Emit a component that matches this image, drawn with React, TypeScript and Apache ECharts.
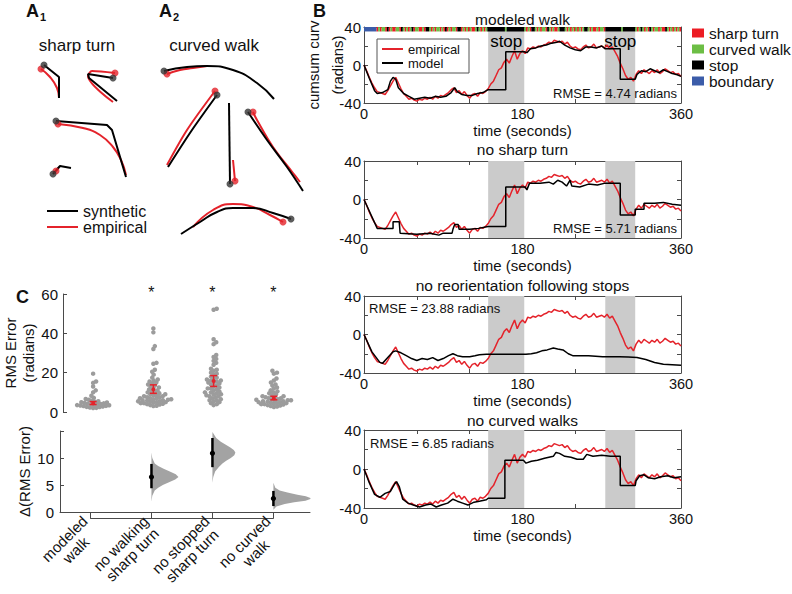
import React, { useEffect, useRef } from 'react';
import * as echarts from 'echarts';

const FONT = '"Liberation Sans", Arial, Helvetica, sans-serif';
const RED = '#e4232b';
const BLACK = '#000000';
const AXIS_COLOR = '#4a4a4a';
const TEXT_COLOR = '#111111';
const SHADE = '#cbcbcb';
const DOT_GRAY = '#9c9c9c';
const VIOLIN_GRAY = '#a3a3a3';

// ---------------- Panel A: example trajectories (arbitrary plane units) ----------------
type Pt = [number, number];
const A_TRAJECTORIES: { syn: Pt[]; emp: Pt[]; synSmooth: number; empSmooth: number }[] = [
  // A1 sharp turns
  { syn: [[44, 65], [59, 77], [59, 98]], emp: [[41, 69], [50, 77], [57, 88], [59, 98]], synSmooth: 0, empSmooth: 0.5 },
  { syn: [[113, 78], [88, 74], [89, 78], [117, 101]], emp: [[115, 73], [92, 71], [88, 76], [113, 102]], synSmooth: 0, empSmooth: 0.3 },
  { syn: [[56, 121], [107, 125], [112, 130], [126, 177]], emp: [[58, 124], [83, 128], [100, 135], [113, 147], [121, 160], [126, 175]], synSmooth: 0, empSmooth: 0.5 },
  { syn: [[53, 174], [60, 166], [71, 168]], emp: [[56, 171], [59, 167]], synSmooth: 0, empSmooth: 0 },
  // A2 curved walks
  { syn: [[164, 71], [187, 67], [207, 66], [233, 70], [257, 83], [274, 99]], emp: [[167, 74], [180, 70], [193, 68], [207, 66]], synSmooth: 0.5, empSmooth: 0.5 },
  { syn: [[217, 95], [192, 130], [168, 167]], emp: [[215, 91], [187, 130], [167, 165]], synSmooth: 0.3, empSmooth: 0.3 },
  { syn: [[230, 184], [229, 103]], emp: [[235, 181], [233, 160]], synSmooth: 0, empSmooth: 0 },
  { syn: [[248, 112], [267, 140], [287, 167], [303, 191]], emp: [[253, 112], [257, 120], [273, 147], [293, 173], [300, 182]], synSmooth: 0.4, empSmooth: 0.4 },
  { syn: [[291, 219], [273, 213], [253, 208], [233, 208], [217, 212], [200, 222], [181, 234]], emp: [[283, 222], [270, 215], [253, 207], [233, 204], [213, 210], [193, 227]], synSmooth: 0.5, empSmooth: 0.5 },
];

// ---------------- Panel B: cumulative curvature ----------------
const TIME_STEP = 3; // seconds between empirical samples
const EMPIRICAL = [
  0, -6, -13, -19, -24, -28, -29, -30, -31, -27, -22, -17, -13, -19, -25, -30, -33, -36, -35, -37,
  -38, -36, -37, -35, -36, -34, -36, -33, -35, -32, -33, -31, -29, -26, -24, -29, -27, -31, -28, -32,
  -35, -31, -30, -33, -29, -30, -28, -25, -20, -17, -11, -5, -3, 3, 6, 2, 9, 15, 6, 12,
  15, 12, 18, 17, 19, 18, 20, 19, 21, 22, 24, 23, 26, 25, 24, 25, 22, 24, 20, 18,
  19, 17, 16, 19, 21, 18, 19, 22, 18, 19, 20, 18, 21, 17, 19, 14, 9, 2, -4, -11,
  -15, -13, -17, -10, -6, -9, -5, -7, -9, -6, -8, -5, -9, -7, -4, -6, -8, -7, -10, -9,
  -12,
];
const MODEL_FULL: Pt[] = [
  [0, 0], [6, -14], [12, -27], [15, -30], [21, -29], [27, -26], [30, -17], [33, -13], [36, -15], [39, -24],
  [45, -30], [51, -33], [57, -36], [63, -35], [69, -34], [75, -35], [81, -33], [87, -34], [93, -33], [99, -29],
  [103, -24], [106, -28], [111, -31], [117, -32], [123, -32], [129, -30], [135, -29], [141, -26], [161, -26], [161, 14],
  [182, 14], [185, 13], [189, 17], [195, 18], [201, 20], [207, 21], [213, 23], [219, 24], [222, 25], [228, 21],
  [234, 18], [240, 16], [246, 15], [252, 19], [258, 19], [264, 18], [270, 20], [274, 17], [291, 17], [291, -15],
  [308, -15], [310, -10], [315, -6], [320, -7], [325, -4], [330, -6], [335, -8], [340, -5], [345, -7], [350, -9],
  [355, -10], [360, -12],
];
const MODEL_NO_SHARP: Pt[] = [
  [0, 0], [15, -30], [33, -30], [33, -23], [40, -23], [41, -35], [60, -36], [75, -35], [85, -37], [90, -35],
  [100, -35], [101, -31], [103, -26], [107, -26], [108, -31], [120, -31], [130, -30], [141, -28], [161, -28], [161, 13],
  [183, 13], [185, 10], [188, 17], [200, 17], [210, 18], [215, 16], [220, 20], [225, 18], [230, 14], [234, 20],
  [236, 14], [245, 13], [255, 16], [265, 15], [274, 17], [291, 17], [291, -16], [308, -16], [308, -10], [318, -10],
  [318, -4], [330, -4], [340, -3], [350, -5], [360, -6],
];
const MODEL_NO_REORIENT: Pt[] = [
  [0, 0], [9, -18], [18, -29], [21, -30], [27, -24], [33, -18], [36, -17], [42, -19], [48, -22], [54, -25],
  [60, -27], [66, -25], [72, -26], [78, -24], [84, -27], [90, -25], [96, -22], [101, -20], [106, -22], [112, -23],
  [120, -23], [126, -22], [131, -21], [139, -20.5], [184, -20.5], [190, -20], [196, -19], [202, -17], [208, -16], [215, -14],
  [220, -15], [226, -16], [232, -20], [237, -22], [245, -22], [255, -22], [271, -23], [290, -23], [300, -23.5], [310, -24],
  [320, -26], [330, -29], [340, -31], [350, -31.5], [360, -32],
];
const MODEL_NO_CURVED: Pt[] = [
  [0, 0], [6, -14], [12, -26], [18, -29], [24, -25], [30, -23], [35, -15], [37, -13], [40, -18], [44, -31],
  [50, -35], [56, -37], [63, -39], [70, -37], [76, -36], [82, -39], [88, -37], [95, -35], [101, -31], [106, -33],
  [112, -35], [118, -37], [125, -34], [131, -33], [139, -31.5], [141, -30], [160, -30], [160, 9], [181, 9], [184, 6],
  [190, 8], [197, 9], [205, 11], [215, 13], [218, 17], [222, 16], [228, 13], [235, 12], [242, 10], [249, 10],
  [253, 15], [260, 13], [270, 14], [280, 13], [291, 13], [291, -17], [308, -17], [309, -12], [313, -7], [318, -6],
  [323, -9], [330, -10], [337, -8], [345, -7], [352, -9], [360, -8],
];
const MODELS = [MODEL_FULL, MODEL_NO_SHARP, MODEL_NO_REORIENT, MODEL_NO_CURVED];
const PANEL_TITLES = ['modeled walk', 'no sharp turn', 'no reorientation following stops', 'no curved walks'];
const RMSE_VALUES = [4.74, 5.71, 23.88, 6.85];
const STOP_INTERVALS: [number, number][] = [[141, 182], [274, 308]];
// behavioural state per 2-s bin: R sharp turn, G curved walk, K stop, B boundary
const STATE_BIN = 2;
const STATE_SEQUENCE =
  'BBBBBBB' +
  'RGRGGRKRGRRGGRKGRGRGKRGGRRGRKKGRGRGGRGRKRGRGGRKKRGRGRGRRGKGRGRG' +
  'KKKKKKKKKKGKKKKKKKKKK' +
  'GRGRKKGRGRGGRKGRGRRGKKKGRGRGRGRGRGKKGRGRRGRGGR' +
  'KKKKKKKKKGKKKKKKK' +
  'GRGKGRGRKGRGGRGRRKGRGRGRGR';
const STATE_CODES = ['R', 'G', 'K', 'B'];
const STATE_NAMES = ['sharp turn', 'curved walk', 'stop', 'boundary'];
const STATE_COLORS = ['#ec1c24', '#6cbe45', '#000000', '#3b5ca9'];

// ---------------- Panel C ----------------
const CATEGORIES = ['modeled\nwalk', 'no walking\nsharp turn', 'no stopped\nsharp turn', 'no curved\nwalk'];
const RMS_MODELED = [19.5, 15.5, 14.8, 13, 11, 10, 8.3, 7.2, 6.6, 6.2, 5.8, 5.5, 5.2, 5, 4.8, 4.6, 4.4, 4.2, 4, 3.8, 3.6, 3.5, 3.3, 3.1, 3, 2.8, 2.6, 2.5, 2.3, 2.1, 2, 4.1, 3.4];
const RMS_NO_WALK_SHARP = [42.5, 40.5, 33.5, 32, 25, 24.5, 21.5, 20.5, 19, 17.5, 16.5, 16, 15.5, 15, 14.5, 14, 13.5, 13, 12.5, 12, 11.5, 11, 10.5, 10, 10, 9.5, 9, 9, 8.5, 8.5, 8, 8, 7.5, 7.5, 7, 7, 6.8, 6.5, 6.5, 6.2, 6, 6, 5.8, 5.5, 5.5, 5.2, 5, 5, 4.8, 4.5, 4.5, 4.2, 4, 3.8, 3.5, 3.2, 3];
const RMS_NO_STOP_SHARP = [52.5, 52, 37, 35.5, 34.5, 29, 28, 27, 26, 25, 24, 22, 21.5, 21, 20, 19.5, 19, 18, 17.5, 17, 16.5, 16, 16, 15.5, 15, 15, 14.5, 14, 13.5, 13, 12.5, 12, 12, 11.5, 11, 10.5, 10, 10, 9.5, 9, 9, 8.5, 8, 8, 7.5, 7, 6.5, 6, 6, 5.5, 5, 4.5, 4, 3.5];
const RMS_NO_CURVED = [21, 20, 19.5, 17, 16, 15, 14, 13.5, 12.5, 12, 11, 10.5, 10, 9.5, 9, 8.5, 8, 8, 7.5, 7.5, 7, 7, 6.5, 6.5, 6.2, 6, 6, 5.8, 5.5, 5.5, 5.3, 5, 5, 4.8, 4.5, 4.5, 4.2, 4, 4, 3.8, 3.5, 3.3, 3, 2.8, 2.5];
const RMS_GROUPS = [RMS_MODELED, RMS_NO_WALK_SHARP, RMS_NO_STOP_SHARP, RMS_NO_CURVED];
const RMS_MEAN = [4.5, 11.5, 15.8, 7.0];
const RMS_CI_LO = [3.8, 9.5, 13.0, 6.2];
const RMS_CI_HI = [5.3, 13.8, 18.5, 8.0];
const SIGNIFICANT = [false, true, true, true];
// bootstrap Δ vs modeled walk (groups 2..4)
const DELTA_MEAN = [6.5, 10.9, 2.5];
const DELTA_CI_LO = [4.4, 8.3, 1.1];
const DELTA_CI_HI = [8.9, 13.7, 3.9];
const DELTA_DENS_Y = [
  [1.9, 3, 4, 4.5, 5, 5.5, 6, 6.5, 7, 7.5, 8, 8.5, 9, 10, 11],
  [5.4, 6.5, 7.5, 8.3, 9, 9.5, 10, 10.5, 11, 11.5, 12, 12.5, 13, 13.7, 14.8],
  [0.4, 1, 1.5, 1.8, 2.1, 2.4, 2.6, 2.9, 3.2, 3.6, 4, 4.5, 5.4],
];
const DELTA_DENS = [
  [0, 0.03, 0.12, 0.25, 0.42, 0.65, 0.88, 1, 0.9, 0.68, 0.45, 0.25, 0.12, 0.03, 0],
  [0, 0.03, 0.1, 0.23, 0.37, 0.51, 0.68, 0.81, 0.85, 0.79, 0.65, 0.48, 0.31, 0.14, 0],
  [0, 0.11, 0.42, 0.77, 1.19, 1.37, 1.37, 1.2, 0.89, 0.52, 0.23, 0.07, 0],
];

// ---------------- layout ----------------
const B_LEFT = 364;
const B_WIDTH = 317;
const B_TOPS = [27, 161, 296, 430];
const B_HEIGHTS = [76, 77, 77, 78];
const C_LEFT = 60;
const C_WIDTH = 250;
const C_XMIN = 0.5;
const C_XMAX = 4.6;
const C1_TOP = 294;
const C1_HEIGHT = 118;
const C1_YMAX = 60;
const C2_TOP = 431;
const C2_HEIGHT = 81;
const VIOLIN_W = 27;
const SWARM_D = 3.3;
// axis indices
const AX_A = 0;
const AX_C1 = 9;
const AX_C2 = 10;
const AX_BRACKET = 11;

function swarm(values: number[], xc: number): Pt[] {
  const D = SWARM_D;
  const sx = C_WIDTH / (C_XMAX - C_XMIN);
  const sy = C1_HEIGHT / C1_YMAX;
  const placed: { x: number; y: number }[] = [];
  const out: Pt[] = [];
  const sorted = [...values].sort((a, b) => a - b);
  for (const v of sorted) {
    const y = v * sy;
    const cands = [0];
    for (const p of placed) {
      const dy = Math.abs(p.y - y);
      if (dy < D) {
        const dx = Math.sqrt(D * D - dy * dy);
        cands.push(p.x + dx, p.x - dx);
      }
    }
    cands.sort((a, b) => Math.abs(a) - Math.abs(b));
    let chosen = 0;
    for (const c of cands) {
      if (placed.every((p) => (p.x - c) ** 2 + (p.y - y) ** 2 >= D * D - 0.01)) {
        chosen = c;
        break;
      }
    }
    placed.push({ x: chosen, y });
    out.push([xc + chosen / sx, v]);
  }
  return out;
}

function stateSegments(code: string): [number, number][] {
  const segs: [number, number][] = [];
  for (let i = 0; i < STATE_SEQUENCE.length; i++) {
    if (STATE_SEQUENCE[i] !== code) continue;
    const s = i * STATE_BIN;
    const e = Math.min(360, (i + 1) * STATE_BIN);
    if (segs.length && Math.abs(segs[segs.length - 1][1] - s) < 1e-9) segs[segs.length - 1][1] = e;
    else segs.push([s, e]);
  }
  return segs;
}

function measure(text: string, size: number): number {
  const ctx = document.createElement('canvas').getContext('2d');
  if (!ctx) return text.length * size * 0.5;
  ctx.font = `${size}px "Liberation Sans", Arial, sans-serif`;
  return ctx.measureText(text).width;
}

function buildOption(): any {
  const grid: any[] = [{ left: 0, top: 0, width: 310, height: 245 }];
  const xAxis: any[] = [{ gridIndex: 0, type: 'value', min: 0, max: 310, show: false }];
  const yAxis: any[] = [{ gridIndex: 0, type: 'value', min: 0, max: 245, inverse: true, show: false }];
  const lineStyle = { color: AXIS_COLOR, width: 1 };
  const labelStyle = { fontFamily: FONT, fontSize: 15, color: TEXT_COLOR };

  for (let k = 0; k < 4; k++) {
    grid.push({ left: B_LEFT, top: B_TOPS[k], width: B_WIDTH, height: B_HEIGHTS[k] });
    const gi = 1 + k;
    xAxis.push({
      gridIndex: gi, type: 'value', min: 0, max: 360, interval: 60, position: 'bottom',
      axisLine: { show: true, onZero: false, lineStyle },
      axisTick: { show: true, inside: true, length: 4, lineStyle },
      axisLabel: { ...labelStyle, fontSize: 14.5, margin: 4, lineHeight: 14, formatter: (v: number) => (v % 180 === 0 ? String(v) : '') },
      splitLine: { show: false },
      name: 'time (seconds)', nameLocation: 'middle', nameGap: 20, nameMoveOverlap: false,
      nameTextStyle: { fontFamily: FONT, fontSize: 15, lineHeight: 15, color: TEXT_COLOR },
    });
    xAxis.push({
      gridIndex: gi, type: 'value', min: 0, max: 360, interval: 60, position: 'top',
      axisLine: { show: true, onZero: false, lineStyle },
      axisTick: { show: true, inside: true, length: 4, lineStyle },
      axisLabel: { show: false }, splitLine: { show: false },
    });
    yAxis.push({
      gridIndex: gi, type: 'value', min: -40, max: 40, interval: 20, position: 'left',
      axisLine: { show: true, onZero: false, lineStyle },
      axisTick: { show: true, inside: true, length: 4, lineStyle },
      axisLabel: { ...labelStyle, margin: 3, formatter: (v: number) => (v % 40 === 0 ? String(v) : '') },
      splitLine: { show: false },
      ...(k === 0
        ? {
            name: '(radians)', nameLocation: 'middle', nameRotate: 90, nameGap: 19, nameMoveOverlap: false,
            nameTextStyle: { fontFamily: FONT, fontSize: 15, color: TEXT_COLOR, lineHeight: 15 },
          }
        : {}),
    });
    yAxis.push({
      gridIndex: gi, type: 'value', min: -40, max: 40, interval: 20, position: 'right',
      axisLine: { show: true, onZero: false, lineStyle },
      axisTick: { show: true, inside: true, length: 4, lineStyle },
      axisLabel: { show: false }, splitLine: { show: false },
    });
  }

  // C upper (grid 5, axes 9)
  grid.push({ left: C_LEFT, top: C1_TOP, width: C_WIDTH, height: C1_HEIGHT });
  xAxis.push({ gridIndex: 5, type: 'value', min: C_XMIN, max: C_XMAX, show: false });
  yAxis.push({
    gridIndex: 5, type: 'value', min: 0, max: C1_YMAX, interval: 20,
    axisLine: { show: true, lineStyle }, axisTick: { show: true, inside: true, length: 4, lineStyle },
    axisLabel: { ...labelStyle, margin: 5 }, splitLine: { show: false },
    name: 'RMS Error\n(radians)', nameLocation: 'middle', nameRotate: 90, nameGap: 26, nameMoveOverlap: false,
    nameTextStyle: { fontFamily: FONT, fontSize: 15, color: TEXT_COLOR, lineHeight: 18 },
  });
  // C lower (grid 6, axes 10)
  grid.push({ left: C_LEFT, top: C2_TOP, width: C_WIDTH, height: C2_HEIGHT });
  xAxis.push({
    gridIndex: 6, type: 'value', min: C_XMIN, max: C_XMAX,
    axisLine: { show: true, onZero: false, lineStyle }, axisTick: { show: false }, axisLabel: { show: false }, splitLine: { show: false },
  });
  yAxis.push({
    gridIndex: 6, type: 'value', min: 0, max: 15, interval: 5,
    axisLine: { show: true, lineStyle }, axisTick: { show: true, inside: true, length: 4, lineStyle },
    axisLabel: { ...labelStyle, margin: 6, formatter: (v: number) => (v >= 15 ? '' : String(v)) }, splitLine: { show: false },
    name: 'Δ(RMS Error)', nameLocation: 'middle', nameRotate: 90, nameGap: 28, nameMoveOverlap: false,
    nameTextStyle: { fontFamily: FONT, fontSize: 15, color: TEXT_COLOR },
  });
  // bracket category axis (grid 7, axes 11)
  const sx = C_WIDTH / (C_XMAX - C_XMIN);
  grid.push({ left: C_LEFT + (1 - C_XMIN) * sx, top: C2_TOP + C2_HEIGHT, width: 3 * sx, height: 6 });
  const rich: any = {};
  CATEGORIES.forEach((c, i) => {
    const lines = c.split('\n');
    const ws = lines.map((l) => measure(l, 15));
    const mw = Math.max(...ws);
    lines.forEach((l, j) => {
      rich[`c${i}l${j}`] = { fontFamily: FONT, fontSize: 15, color: TEXT_COLOR, lineHeight: 16, padding: [0, (mw - ws[j]) / 2, 0, 0] };
    });
  });
  xAxis.push({
    gridIndex: 7, type: 'category', boundaryGap: false, data: CATEGORIES,
    axisLine: { show: true, lineStyle }, axisTick: { show: true, inside: true, length: 5, lineStyle, interval: 0 },
    axisLabel: {
      interval: 0, rotate: 45, margin: 6, fontSize: 15, lineHeight: 16, fontFamily: FONT,
      formatter: (v: string, i: number) => v.split('\n').map((l, j) => `{c${i}l${j}|${l}}`).join('\n'),
      rich,
    },
  });
  yAxis.push({ gridIndex: 7, type: 'value', min: 0, max: 1, show: false });

  const series: any[] = [];
  // Panel A
  A_TRAJECTORIES.forEach((t) =>
    series.push({
      type: 'line', name: 'empirical', xAxisIndex: AX_A, yAxisIndex: AX_A, data: t.emp, showSymbol: false, smooth: t.empSmooth,
      lineStyle: { color: RED, width: 2 }, itemStyle: { color: RED }, z: 2,
    })
  );
  A_TRAJECTORIES.forEach((t) =>
    series.push({
      type: 'line', name: 'synthetic', xAxisIndex: AX_A, yAxisIndex: AX_A, data: t.syn, showSymbol: false, smooth: t.synSmooth,
      lineStyle: { color: BLACK, width: 2 }, itemStyle: { color: BLACK }, z: 3,
    })
  );
  series.push({
    type: 'scatter', name: 'empirical start', xAxisIndex: AX_A, yAxisIndex: AX_A, data: A_TRAJECTORIES.map((t) => t.emp[0]),
    symbolSize: 7, itemStyle: { color: RED }, z: 4,
  });
  series.push({
    type: 'scatter', name: 'synthetic start', xAxisIndex: AX_A, yAxisIndex: AX_A, data: A_TRAJECTORIES.map((t) => t.syn[0]),
    symbolSize: 7, itemStyle: { color: '#333333' }, z: 5,
  });

  // Panel B
  const empData = EMPIRICAL.map((v, i) => [i * TIME_STEP, v]);
  for (let k = 0; k < 4; k++) {
    const ax = 1 + 2 * k;
    series.push({
      type: 'line', name: 'empirical', xAxisIndex: ax, yAxisIndex: ax, data: empData, showSymbol: false,
      lineStyle: { color: RED, width: 1.5 }, itemStyle: { color: RED }, z: 2,
      markArea: {
        silent: true,
        itemStyle: { color: SHADE },
        label: {
          show: k === 0, position: 'insideTop', distance: 6, fontFamily: FONT, fontSize: 17, color: BLACK,
        },
        data: STOP_INTERVALS.map(([a, b]) => [{ xAxis: a, name: 'stop' }, { xAxis: b }]),
      },
    });
    series.push({
      type: 'line', name: 'model', xAxisIndex: ax, yAxisIndex: ax, data: MODELS[k], showSymbol: false,
      lineStyle: { color: BLACK, width: 1.5 }, itemStyle: { color: BLACK }, z: 3,
    });
  }
  STATE_CODES.forEach((code, si) => {
    series.push({
      type: 'custom', name: STATE_NAMES[si], xAxisIndex: 1, yAxisIndex: 1, data: stateSegments(code),
      itemStyle: { color: STATE_COLORS[si] }, z: 6,
      renderItem: (params: any, api: any) => {
        const p0 = api.coord([api.value(0), 40]);
        const p1 = api.coord([api.value(1), 35.3]);
        return {
          type: 'rect',
          shape: { x: p0[0], y: p0[1], width: p1[0] - p0[0], height: p1[1] - p0[1] },
          style: { fill: STATE_COLORS[si] },
        };
      },
    });
  });

  // Panel C upper: swarm + mean/CI
  RMS_GROUPS.forEach((vals, g) =>
    series.push({
      type: 'scatter', xAxisIndex: AX_C1, yAxisIndex: AX_C1, data: swarm(vals, g + 1), symbolSize: 4.5,
      itemStyle: { color: DOT_GRAY, opacity: 1 }, z: 2,
    })
  );
  series.push({
    type: 'custom', xAxisIndex: AX_C1, yAxisIndex: AX_C1, z: 6,
    data: RMS_MEAN.map((m, i) => [i + 1, m, RMS_CI_LO[i], RMS_CI_HI[i]]),
    renderItem: (params: any, api: any) => {
      const x = api.value(0);
      const pm = api.coord([x, api.value(1)]);
      const pl = api.coord([x, api.value(2)]);
      const ph = api.coord([x, api.value(3)]);
      const cw = 3.5;
      const st = { stroke: RED, lineWidth: 1.5 };
      return {
        type: 'group',
        children: [
          { type: 'line', shape: { x1: pl[0], y1: pl[1], x2: ph[0], y2: ph[1] }, style: st },
          { type: 'line', shape: { x1: pl[0] - cw, y1: pl[1], x2: pl[0] + cw, y2: pl[1] }, style: st },
          { type: 'line', shape: { x1: ph[0] - cw, y1: ph[1], x2: ph[0] + cw, y2: ph[1] }, style: st },
          { type: 'circle', shape: { cx: pm[0], cy: pm[1], r: 2 }, style: { fill: RED } },
        ],
      };
    },
  });

  // Panel C lower: bootstrap densities + mean/CI
  series.push({
    type: 'custom', xAxisIndex: AX_C2, yAxisIndex: AX_C2, z: 2,
    data: DELTA_MEAN.map((m, i) => [i + 2, i]),
    renderItem: (params: any, api: any) => {
      const x = api.value(0);
      const gi = api.value(1);
      const ys = DELTA_DENS_Y[gi];
      const ds = DELTA_DENS[gi];
      const pts: number[][] = [];
      const b0 = api.coord([x, ys[0]]);
      pts.push([b0[0], b0[1]]);
      ys.forEach((y, j) => {
        const p = api.coord([x, y]);
        pts.push([p[0] + ds[j] * VIOLIN_W, p[1]]);
      });
      const bn = api.coord([x, ys[ys.length - 1]]);
      pts.push([bn[0], bn[1]]);
      return { type: 'polygon', shape: { points: pts }, style: { fill: VIOLIN_GRAY } };
    },
  });
  series.push({
    type: 'custom', xAxisIndex: AX_C2, yAxisIndex: AX_C2, z: 5,
    data: DELTA_MEAN.map((m, i) => [i + 2, m, DELTA_CI_LO[i], DELTA_CI_HI[i]]),
    renderItem: (params: any, api: any) => {
      const x = api.value(0);
      const pm = api.coord([x, api.value(1)]);
      const pl = api.coord([x, api.value(2)]);
      const ph = api.coord([x, api.value(3)]);
      return {
        type: 'group',
        children: [
          { type: 'line', shape: { x1: pl[0], y1: pl[1], x2: ph[0], y2: ph[1] }, style: { stroke: BLACK, lineWidth: 2.5 } },
          { type: 'circle', shape: { cx: pm[0], cy: pm[1], r: 2.6 }, style: { fill: BLACK } },
        ],
      };
    },
  });
  series.push({ type: 'line', xAxisIndex: AX_BRACKET, yAxisIndex: AX_BRACKET, data: [] });

  // texts
  const txt = (text: string, x: number, y: number, size: number, opts: any = {}) => ({
    type: 'text', x, y, silent: true, z: 100, rotation: opts.rotation || 0,
    style: {
      text, fontFamily: FONT, fontSize: size, fill: TEXT_COLOR,
      align: opts.align || 'left', verticalAlign: opts.verticalAlign || 'middle', fontWeight: opts.fontWeight || 'normal',
    },
  });
  const graphics: any[] = [
    txt('A', 26, 11, 18, { fontWeight: 'bold' }),
    txt('1', 40, 17, 11, { fontWeight: 'bold' }),
    txt('A', 159, 11, 18, { fontWeight: 'bold' }),
    txt('2', 173, 17, 11, { fontWeight: 'bold' }),
    txt('B', 313, 11, 18, { fontWeight: 'bold' }),
    txt('C', 16, 297, 18, { fontWeight: 'bold' }),
    txt('sharp turn', 77, 45, 17, { align: 'center' }),
    txt('curved walk', 214, 45, 17, { align: 'center' }),
    txt('cumsum curv', 313, B_TOPS[0] + B_HEIGHTS[0] / 2, 15, { align: 'center', rotation: Math.PI / 2 }),
  ];
  const titleY = [19, 149, 285, 420];
  PANEL_TITLES.forEach((t, k) => graphics.push(txt(t, B_LEFT + B_WIDTH / 2, titleY[k], 15.5, { align: 'center' })));
  const rmsePos = [
    { x: 677, y: 93, align: 'right' },
    { x: 677, y: 228, align: 'right' },
    { x: 369, y: 308, align: 'left' },
    { x: 370, y: 443, align: 'left' },
  ];
  RMSE_VALUES.forEach((v, k) =>
    graphics.push(txt(`RMSE = ${v.toFixed(2)} radians`, rmsePos[k].x, rmsePos[k].y, 13, { align: rmsePos[k].align }))
  );
  SIGNIFICANT.forEach((s, g) => {
    if (s) graphics.push(txt('*', C_LEFT + (g + 1 - C_XMIN) * sx, 292, 16, { align: 'center' }));
  });

  return {
    animation: false,
    backgroundColor: '#ffffff',
    textStyle: { fontFamily: FONT },
    grid,
    xAxis,
    yAxis,
    legend: [
      {
        data: ['synthetic', 'empirical'], left: 47, top: 203, orient: 'vertical', icon: 'rect',
        itemWidth: 31, itemHeight: 2, itemGap: 0, padding: 0, selectedMode: false,
        textStyle: { fontFamily: FONT, fontSize: 16, lineHeight: 16, color: TEXT_COLOR },
      },
      {
        data: ['empirical', 'model'], left: 377, top: 39, orient: 'vertical', icon: 'rect',
        itemWidth: 21, itemHeight: 2, itemGap: 0, padding: [3, 9, 3, 5], selectedMode: false,
        borderColor: '#555555', borderWidth: 1, backgroundColor: '#ffffff',
        textStyle: { fontFamily: FONT, fontSize: 13, lineHeight: 14, color: TEXT_COLOR },
      },
      {
        data: STATE_NAMES, left: 692, top: 25, orient: 'vertical', icon: 'rect',
        itemWidth: 12, itemHeight: 9, itemGap: 0, padding: 0, selectedMode: false,
        textStyle: { fontFamily: FONT, fontSize: 15.5, lineHeight: 16, color: TEXT_COLOR },
      },
    ],
    graphic: { elements: graphics },
    series,
  };
}

export default function App() {
  const ref = useRef<HTMLDivElement>(null);
  useEffect(() => {
    if (!ref.current) return;
    const chart = echarts.init(ref.current, undefined, { renderer: 'svg' });
    chart.setOption(buildOption());
    return () => chart.dispose();
  }, []);
  return (
    <div
      ref={ref}
      style={{ position: 'absolute', left: 0, top: 0, width: 792, height: 594, background: '#ffffff' }}
    />
  );
}
